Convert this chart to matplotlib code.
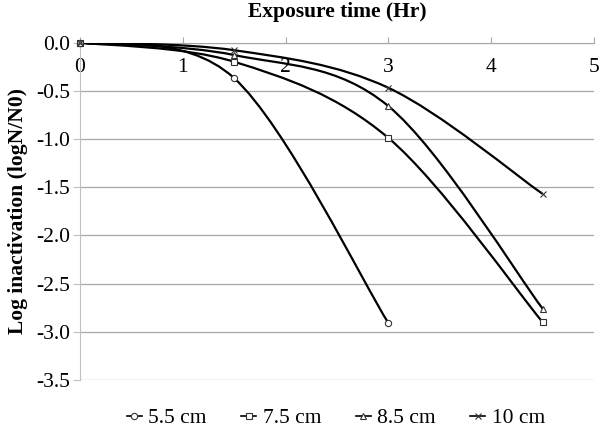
import numpy as np
import matplotlib.pyplot as plt
from matplotlib.path import Path
from matplotlib.patches import PathPatch

plt.rcParams['font.family'] = ['Liberation Serif', 'DejaVu Serif']

# exposure time (Hr) and log inactivation for each distance
hours = [0, 1.5, 3, 4.5]
labels = ['5.5 cm', '7.5 cm', '8.5 cm', '10 cm']
y_55 = [0.0, -0.37, -2.91]
y_75 = [0.0, -0.20, -0.99, -2.90]
y_85 = [0.0, -0.13, -0.66, -2.76]
y_10 = [0.0, -0.08, -0.47, -1.57]
markers = ['o', 's', '^', 'x']

x_ticks = [0, 1, 2, 3, 4, 5]
y_ticks = [0.0, -0.5, -1.0, -1.5, -2.0, -2.5, -3.0, -3.5]


def smooth_path(x, y):
    # excel style smoothed line: bezier segments through the points
    pts = np.column_stack([x, y]).astype(float)
    n = len(pts)
    verts = [pts[0]]
    codes = [Path.MOVETO]
    for i in range(n - 1):
        p0 = pts[i - 1] if i > 0 else pts[i]
        p1 = pts[i]
        p2 = pts[i + 1]
        p3 = pts[i + 2] if i + 2 < n else pts[i + 1]
        c1 = p1 + (p2 - p0) / 6.0
        c2 = p2 - (p3 - p1) / 6.0
        verts += [c1, c2, p2]
        codes += [Path.CURVE4] * 3
    return Path(verts, codes)


fig = plt.figure(figsize=(6.0, 4.29), dpi=100)
ax = fig.add_axes([80 / 600, 1 - 380 / 429, 514 / 600, 337.5 / 429])

series = [y_55, y_75, y_85, y_10]
handles = []
for ys, m, lab in zip(series, markers, labels):
    xs = hours[:len(ys)]
    ax.add_patch(PathPatch(smooth_path(xs, ys), facecolor='none',
                           edgecolor='black', lw=1.6, zorder=3))
    h, = ax.plot(xs, ys, linestyle='none', marker=m, markersize=4.5,
                 markerfacecolor='white', markeredgecolor='#333333',
                 markeredgewidth=0.8, clip_on=False, zorder=4)
    handles.append(ax.plot([], [], color='black', lw=1.2, marker=m,
                           markersize=4.5, markerfacecolor='white',
                           markeredgecolor='#333333', markeredgewidth=0.8,
                           label=lab)[0])

ax.set_xlim(0, 5)
ax.set_ylim(-3.5, 0)
ax.set_xticks(x_ticks)
ax.set_yticks(y_ticks)
ax.set_yticklabels(['%.1f' % v for v in y_ticks])

ax.yaxis.grid(True, color='#a6a6a6', lw=0.9)
ax.set_axisbelow(True)

for s in ['top', 'right']:
    ax.spines[s].set_visible(False)
ax.spines['bottom'].set_position(('data', 0))
ax.spines['bottom'].set_color('#a6a6a6')
ax.spines['left'].set_color('#c0c0c0')
ax.spines['bottom'].set_zorder(1)

ax.tick_params(axis='x', direction='in', length=4, color='#a6a6a6',
               labelsize=15.5, pad=11)
ax.tick_params(axis='y', direction='out', length=5, color='#c0c0c0',
               labelsize=15.5, pad=2)

ax.set_ylabel('Log inactivation (logN/N0)', fontsize=15.5,
              fontweight='bold', labelpad=6)
fig.text(337 / 600, 1 - 12 / 429, 'Exposure time (Hr)', ha='center',
         va='center', fontsize=15.5, fontweight='bold')

fig.legend(handles=handles, loc='center', bbox_to_anchor=(336 / 600, 1 - 418 / 429),
           ncol=4, frameon=False, fontsize=15.5, handlelength=0.7,
           handletextpad=0.3, columnspacing=1.6, borderaxespad=0)

fig.savefig('out.png', dpi=100)
